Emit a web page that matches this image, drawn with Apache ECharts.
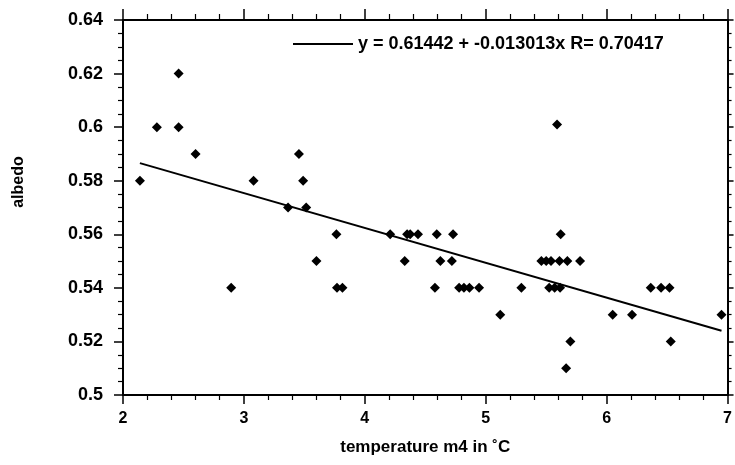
<!DOCTYPE html>
<html>
<head>
<meta charset="utf-8">
<script src="https://cdn.jsdelivr.net/npm/echarts@6/dist/echarts.min.js"></script>
<style>
  html, body { margin: 0; padding: 0; background: #fff; }
  #chart { width: 735px; height: 465px; }
</style>
</head>
<body>
<div id="chart"></div>
<script>
// Temperature (°C) of each observation
const tempX = [
  2.46,
  2.28, 2.46, 5.59,
  2.60, 3.455,
  2.14, 3.08, 3.49,
  3.365, 3.515,
  3.765, 4.21, 4.35, 4.375, 4.44, 4.595, 4.73, 5.62,
  3.60, 4.33, 4.625, 4.72, 5.46, 5.50, 5.54, 5.61, 5.675, 5.78,
  2.895, 3.77, 3.815, 4.58, 4.78, 4.82, 4.865, 4.945, 5.295, 5.525, 5.57, 5.615, 6.365, 6.45, 6.52,
  5.12, 6.05, 6.21, 6.95,
  5.70, 6.53,
  5.665
];
// Albedo of each observation
const albedoY = [
  0.62,
  0.60, 0.60, 0.601,
  0.59, 0.59,
  0.58, 0.58, 0.58,
  0.57, 0.57,
  0.56, 0.56, 0.56, 0.56, 0.56, 0.56, 0.56, 0.56,
  0.55, 0.55, 0.55, 0.55, 0.55, 0.55, 0.55, 0.55, 0.55, 0.55,
  0.54, 0.54, 0.54, 0.54, 0.54, 0.54, 0.54, 0.54, 0.54, 0.54, 0.54, 0.54, 0.54, 0.54, 0.54,
  0.53, 0.53, 0.53, 0.53,
  0.52, 0.52,
  0.51
];
// Linear fit reported on the chart
const fitIntercept = 0.61442;
const fitSlope = -0.013013;
const fitR = 0.70417;
const xTicks = [2, 3, 4, 5, 6, 7];
const yTicks = [0.5, 0.52, 0.54, 0.56, 0.58, 0.6, 0.62, 0.64];

const fitLabel = 'y = ' + fitIntercept + ' + ' + fitSlope + 'x R= ' + fitR;
const points = tempX.map((x, i) => [x, albedoY[i]]);
const xMinData = Math.min(...tempX), xMaxData = Math.max(...tempX);
const fitLine = [xMinData, xMaxData].map(x => [x, fitIntercept + fitSlope * x]);

const FONT = '"Liberation Sans", Arial, sans-serif';
const tickStyleX = { show: true, inside: false, length: 9, lineStyle: { color: '#000', width: 1.5 } };
const minorX = { show: true, splitNumber: 5, length: 5, lineStyle: { color: '#000', width: 1.2 } };
const minorY = { show: true, splitNumber: 4, length: 5, lineStyle: { color: '#000', width: 1.2 } };
const axisLine = { show: true, onZero: false, lineStyle: { color: '#000', width: 2 } };

const chart = echarts.init(document.getElementById('chart'), null, { renderer: 'canvas' });
chart.setOption({
  animation: false,
  backgroundColor: '#fff',
  grid: { left: 123, top: 20, right: 4, bottom: 70, containLabel: false },
  legend: {
    data: [{ name: fitLabel, icon: 'rect' }],
    left: 288, top: 30,
    itemWidth: 60, itemHeight: 2,
    textStyle: { color: '#000', fontSize: 18, fontFamily: FONT, fontWeight: 'bold' },
    selectedMode: false
  },
  xAxis: [
    {
      type: 'value', min: xTicks[0], max: xTicks[xTicks.length - 1], interval: 1,
      position: 'bottom',
      name: 'temperature m4 in ˚C', nameLocation: 'middle', nameGap: 44,
      nameTextStyle: { color: '#000', fontSize: 17, fontFamily: FONT, fontWeight: 'bold' },
      axisLine: axisLine, axisTick: tickStyleX, minorTick: minorX,
      splitLine: { show: false },
      axisLabel: { color: '#000', fontSize: 16, fontFamily: FONT, fontWeight: 'bold', margin: 16 }
    },
    {
      type: 'value', min: xTicks[0], max: xTicks[xTicks.length - 1], interval: 1,
      position: 'top',
      axisLine: axisLine, axisTick: Object.assign({}, tickStyleX, { length: 11 }), minorTick: Object.assign({}, minorX, { length: 6 }),
      splitLine: { show: false }, axisLabel: { show: false }
    }
  ],
  yAxis: [
    {
      type: 'value', min: yTicks[0], max: yTicks[yTicks.length - 1], interval: 0.02,
      position: 'left',
      axisLine: axisLine, axisTick: tickStyleX, minorTick: minorY,
      splitLine: { show: false },
      axisLabel: { color: '#000', fontSize: 18, fontFamily: FONT, fontWeight: 'bold', margin: 20,
        formatter: v => String(+v.toFixed(2)) }
    },
    {
      type: 'value', min: yTicks[0], max: yTicks[yTicks.length - 1], interval: 0.02,
      position: 'right',
      axisLine: axisLine, axisTick: Object.assign({}, tickStyleX, { length: 6 }), minorTick: Object.assign({}, minorY, { length: 4 }),
      splitLine: { show: false }, axisLabel: { show: false }
    }
  ],
  graphic: [{
    type: 'text', x: 19, y: 182, rotation: Math.PI / 2,
    style: { text: 'albedo', fill: '#000', font: 'bold 16px ' + FONT, textAlign: 'center', textVerticalAlign: 'middle' }
  }],
  series: [
    {
      name: 'data', type: 'scatter', xAxisIndex: 0, yAxisIndex: 0,
      symbol: 'diamond', symbolSize: [10, 10],
      itemStyle: { color: '#000', opacity: 1 },
      data: points
    },
    {
      name: fitLabel, type: 'line', xAxisIndex: 0, yAxisIndex: 0,
      symbol: 'none', lineStyle: { color: '#000', width: 2 },
      itemStyle: { color: '#000' },
      data: fitLine
    }
  ]
});
</script>
</body>
</html>
